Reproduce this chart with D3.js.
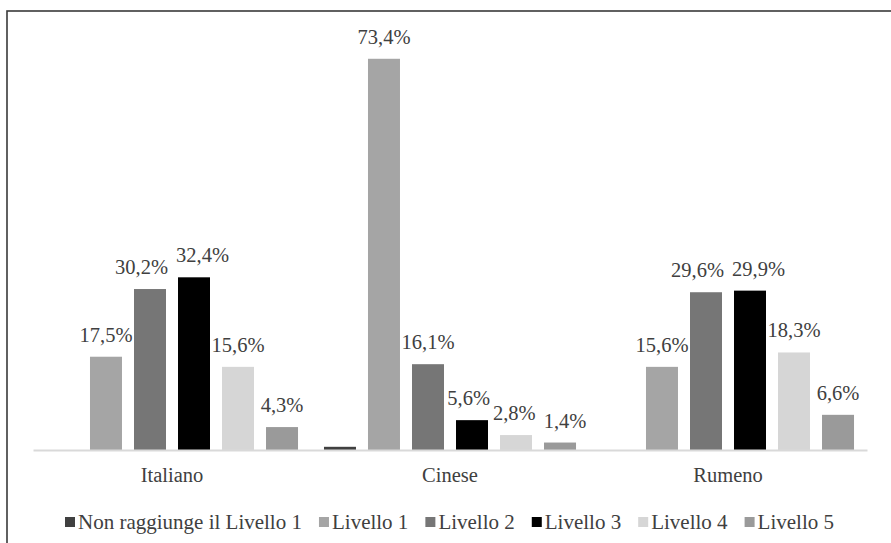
<!DOCTYPE html>
<html>
<head>
<meta charset="utf-8">
<script src="https://cdn.jsdelivr.net/npm/d3@7/dist/d3.min.js"></script>
<style>
  html, body { margin: 0; padding: 0; background: #fff; }
  svg { display: block; }
</style>
</head>
<body>
<svg id="chart" width="891" height="543"></svg>
<script>
// Categories (language groups) and the competence levels shown as series
const categories = ["Italiano", "Cinese", "Rumeno"];
const levels = ["Non raggiunge il Livello 1", "Livello 1", "Livello 2", "Livello 3", "Livello 4", "Livello 5"];

// Percentage per level, one array per level, ordered like categories
const nonRaggiunge = [0, 0.6, 0];
const livello1 = [17.5, 73.4, 15.6];
const livello2 = [30.2, 16.1, 29.6];
const livello3 = [32.4, 5.6, 29.9];
const livello4 = [15.6, 2.8, 18.3];
const livello5 = [4.3, 1.4, 6.6];

// Which bars carry a value label
const showLabel = [false, true, true, true, true, true];

const levelColors = ["#404040", "#a5a5a5", "#767676", "#000000", "#d6d6d6", "#9a9a9a"];

const seriesValues = [nonRaggiunge, livello1, livello2, livello3, livello4, livello5];

const FONT = "Liberation Serif, Times New Roman, serif";
const TEXT_COLOR = "#404040";

const rows = categories.map((c, i) => ({
  category: c,
  values: levels.map((l, j) => ({ level: l, idx: j, value: seriesValues[j][i] }))
}));

const svg = d3.select("#chart")
  .style("font-family", FONT);
const W = 891, H = 543;

// Outer frame
svg.append("rect")
  .attr("x", 7).attr("y", 11)
  .attr("width", W + 20).attr("height", H + 20)
  .attr("fill", "none").attr("stroke", "#3a3a3a").attr("stroke-width", 1.6);

const plot = { left: 33, right: 867, top: 23.6, bottom: 450 };

const x0 = d3.scaleBand()
  .domain(categories)
  .range([plot.left, plot.right])
  .paddingInner(0).paddingOuter(0);

const x1 = d3.scaleBand()
  .domain(levels)
  .range([0, x0.bandwidth()])
  .paddingInner(0.273)
  .paddingOuter(0.295);

const y = d3.scaleLinear()
  .domain([0, 80])
  .range([plot.bottom, plot.top]);

const fmt = v => d3.format(".1f")(v).replace(".", ",") + "%";

const groups = svg.append("g")
  .selectAll("g")
  .data(rows)
  .join("g")
  .attr("transform", d => `translate(${x0(d.category)},0)`);

groups.selectAll("rect")
  .data(d => d.values.filter(v => v.value > 0))
  .join("rect")
  .attr("x", d => x1(d.level))
  .attr("y", d => y(d.value))
  .attr("width", x1.bandwidth())
  .attr("height", d => y(0) - y(d.value))
  .attr("fill", d => levelColors[d.idx]);

groups.each(function () {
  const labels = d3.select(this).selectAll("text.val")
    .data(d => d.values.filter(v => showLabel[v.idx] && v.value > 0))
    .join("text")
    .attr("class", "val")
    .attr("x", d => x1(d.level) + x1.bandwidth() / 2)
    .attr("y", d => y(d.value) - 15)
    .attr("text-anchor", "middle")
    .style("font-family", FONT)
    .style("font-size", "20.5px")
    .attr("fill", TEXT_COLOR)
    .text(d => fmt(d.value));

  // Nudge neighbouring labels apart when they collide
  const nodes = labels.nodes();
  for (let k = 1; k < nodes.length; k++) {
    const a = nodes[k - 1].getBBox();
    const b = nodes[k].getBBox();
    const vOverlap = a.y < b.y + b.height && b.y < a.y + a.height;
    const gap = 8;
    const overlap = a.x + a.width + gap - b.x;
    if (vOverlap && overlap > 0) {
      const pa = d3.select(nodes[k - 1]);
      const pb = d3.select(nodes[k]);
      pa.attr("x", +pa.attr("x") - overlap / 2);
      pb.attr("x", +pb.attr("x") + overlap / 2);
    }
  }
});

// Category axis
const xAxis = svg.append("g")
  .attr("transform", `translate(0,${plot.bottom})`)
  .call(d3.axisBottom(x0).tickSize(0).tickPadding(17));
xAxis.select(".domain").attr("stroke", "#d9d9d9").attr("stroke-width", 2);
xAxis.selectAll(".tick text")
  .style("font-family", FONT)
  .style("font-size", "20.5px")
  .attr("fill", TEXT_COLOR);

// Legend
const legend = svg.append("g").attr("class", "legend");
let lx = 65;
const ly = 522;
levels.forEach((l, j) => {
  const g = legend.append("g").attr("transform", `translate(${lx},${ly})`);
  g.append("rect").attr("x", 0).attr("y", -5).attr("width", 10).attr("height", 10)
    .attr("fill", levelColors[j]);
  const t = g.append("text").attr("x", 13).attr("y", 7)
    .style("font-family", FONT).style("font-size", "21px")
    .attr("fill", TEXT_COLOR).text(l);
  lx += 13 + t.node().getComputedTextLength() + 17;
});
</script>
</body>
</html>
